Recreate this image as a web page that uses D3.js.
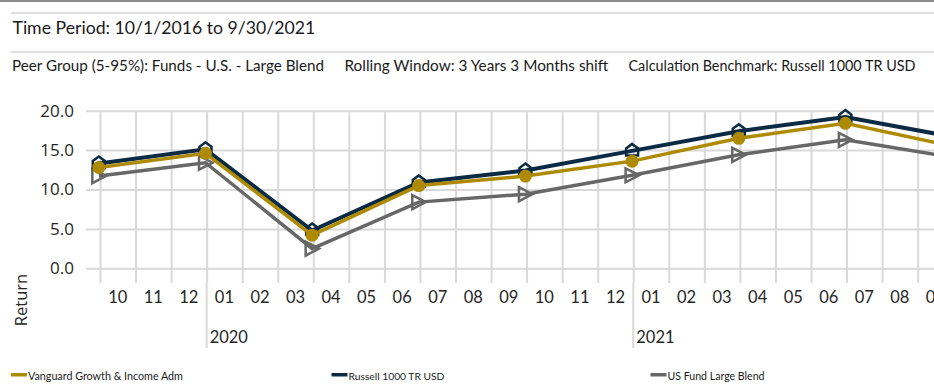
<!DOCTYPE html>
<html>
<head>
<meta charset="utf-8">
<script src="https://cdn.jsdelivr.net/npm/d3@7"></script>
<style>
  html, body { margin: 0; padding: 0; background: #fff; }
  svg { display: block; }
</style>
</head>
<body>
<svg id="chart" width="934" height="388"></svg>
<script>
// ---------- data ----------
const dates = ["2019-09-30","2019-12-31","2020-03-31","2020-06-30","2020-09-30","2020-12-31","2021-03-31","2021-06-30","2021-09-30"];
const vanguard = [12.8, 14.6, 4.2, 10.5, 11.7, 13.6, 16.5, 18.4, 15.5];
const russell  = [13.3, 15.1, 4.8, 10.9, 12.4, 14.9, 17.4, 19.2, 16.7];
const peerGroup = [11.7, 13.4, 2.5, 8.4, 9.4, 11.8, 14.4, 16.3, 14.1];
const seriesNames = ["Vanguard Growth & Income Adm", "Russell 1000 TR USD", "US Fund Large Blend"];
const yTicks = [0, 5, 10, 15, 20];
const monthLabels = ["10","11","12","01","02","03","04","05","06","07","08","09","10","11","12","01","02","03","04","05","06","07","08","09"];
const yearLabels = ["2020", "2021"];
const titleText = "Time Period: 10/1/2016 to 9/30/2021";
const subtitleParts = ["Peer Group (5-95%): Funds - U.S. - Large Blend", "Rolling Window: 3 Years 3 Months shift", "Calculation Benchmark: Russell 1000 TR USD"];
const yAxisTitle = "Return";

// ---------- style ----------
const colors = { vanguard: "#AE8A00", russell: "#0B2A44", peer: "#676767" };
const gridColor = "#D9D9D9";
const labelFont = "Lato, 'Liberation Sans Narrow', sans-serif";
const numFont = "'Open Sans', 'DejaVu Sans', sans-serif";

const svg = d3.select("#chart");
const W = 934, H = 388;
svg.append("rect").attr("width", W).attr("height", H).attr("fill", "#fff");

function fit(sel, w) {
  const len = sel.node().getComputedTextLength();
  const fs = parseFloat(sel.attr("font-size"));
  sel.attr("font-size", (fs * w / len).toFixed(2));
  return sel;
}

// ---------- header ----------
svg.append("line").attr("x1", 0).attr("x2", W).attr("y1", 1).attr("y2", 1)
  .attr("stroke", "#8C8C8C").attr("stroke-width", 2);
svg.append("line").attr("x1", 11).attr("x2", W).attr("y1", 13).attr("y2", 13)
  .attr("stroke", "#DDDDDD").attr("stroke-width", 2);
svg.append("line").attr("x1", 11).attr("x2", W).attr("y1", 52).attr("y2", 52)
  .attr("stroke", "#DDDDDD").attr("stroke-width", 2);

fit(svg.append("text").attr("x", 12.5).attr("y", 33.5)
  .attr("font-family", labelFont).attr("font-size", 18).attr("fill", "#1a1a1a")
  .text(titleText), 303);

const subX = [12, 344.5, 628.5];
const subW = [312, 264, 287];
subtitleParts.forEach((t, i) => {
  fit(svg.append("text").attr("x", subX[i]).attr("y", 71)
    .attr("font-family", labelFont).attr("font-size", 14).attr("fill", "#1a1a1a")
    .text(t), subW[i]);
});

// ---------- scales ----------
// x: continuous month index (months since Jan 2019)
function monthIndex(s) {
  const d = new Date(s + "T00:00:00");
  const y = d.getFullYear(), m = d.getMonth(), day = d.getDate();
  const dim = new Date(y, m + 1, 0).getDate();
  return (y - 2019) * 12 + m + (day - 1) / dim;
}
const firstMonth = 9; // Oct 2019
const x = d3.scaleLinear().domain([firstMonth, firstMonth + 24]).range([100, 100 + 24 * 35.55]);
const plotLeft = 86, plotTop = 110.7, plotBottom = 283;
const y = d3.scaleLinear().domain([0, 20]).range([268.3, 110.7]);

// ---------- gridlines / axes ----------
const yAxis = d3.axisLeft(y).tickValues(yTicks).tickFormat(d3.format(".1f"))
  .tickSize(-(W - plotLeft)).tickPadding(12);
const gy = svg.append("g").attr("transform", `translate(${plotLeft},0)`).call(yAxis);
gy.select(".domain").remove();
gy.selectAll(".tick line").attr("stroke", gridColor).attr("stroke-width", 2);
gy.selectAll(".tick text").attr("font-family", numFont).attr("font-size", 17)
  .attr("fill", "#262626");

const monthTicks = d3.range(firstMonth, firstMonth + 25);
const xAxis = d3.axisBottom(x).tickValues(monthTicks).tickFormat("")
  .tickSize(-(plotBottom - plotTop));
const gx = svg.append("g").attr("transform", `translate(0,${plotBottom})`).call(xAxis);
gx.select(".domain").remove();
gx.selectAll(".tick line").attr("stroke", gridColor).attr("stroke-width", 2);

// month labels
svg.append("g").selectAll("text").data(monthLabels).join("text")
  .attr("x", (d, i) => x(firstMonth + i + 0.5))
  .attr("y", 303)
  .attr("text-anchor", "middle")
  .attr("font-family", labelFont).attr("font-size", 16.5).attr("fill", "#262626")
  .text(d => d);

// year dividers & labels
const yearStarts = yearLabels.map((_, i) => 12 + 12 * i);
svg.append("g").selectAll("line").data(yearStarts).join("line")
  .attr("x1", d => x(d)).attr("x2", d => x(d))
  .attr("y1", plotBottom).attr("y2", 348)
  .attr("stroke", gridColor).attr("stroke-width", 2);
svg.append("g").selectAll("text").data(yearLabels).join("text")
  .attr("x", (d, i) => x(yearStarts[i]) + 3)
  .attr("y", 343)
  .attr("font-family", labelFont).attr("font-size", 16.5).attr("fill", "#262626")
  .text(d => d);

// y axis title
svg.append("text")
  .attr("transform", "translate(27,300) rotate(-90)")
  .attr("text-anchor", "middle")
  .attr("font-family", numFont).attr("font-size", 16.5).attr("fill", "#262626")
  .text(yAxisTitle);

// ---------- series ----------
const xs = dates.map(monthIndex);
const line = d3.line().x((d, i) => x(xs[i])).y(d => y(d));

const plot = svg.append("g");

// peer group (gray, triangle)
plot.append("path").datum(peerGroup).attr("d", line)
  .attr("fill", "none").attr("stroke", colors.peer).attr("stroke-width", 3.5)
  .attr("stroke-linejoin", "miter");
plot.append("g").selectAll("path").data(peerGroup).join("path")
  .attr("transform", (d, i) => `translate(${x(xs[i])},${y(d)})`)
  .attr("d", "M-6.5,-7L7,0L-6.5,7Z")
  .attr("fill", "none").attr("stroke", colors.peer).attr("stroke-width", 2.5);

// russell (navy, house)
plot.append("path").datum(russell).attr("d", line)
  .attr("fill", "none").attr("stroke", colors.russell).attr("stroke-width", 4)
  .attr("stroke-linejoin", "miter");
plot.append("g").selectAll("path").data(russell).join("path")
  .attr("transform", (d, i) => `translate(${x(xs[i])},${y(d)})`)
  .attr("d", "M0,-7L6,-2.5L6,4.5L-6,4.5L-6,-2.5Z")
  .attr("fill", "none").attr("stroke", colors.russell).attr("stroke-width", 2.5);

// vanguard (gold, circle)
plot.append("path").datum(vanguard).attr("d", line)
  .attr("fill", "none").attr("stroke", colors.vanguard).attr("stroke-width", 3.5)
  .attr("stroke-linejoin", "miter");
plot.append("g").selectAll("circle").data(vanguard).join("circle")
  .attr("cx", (d, i) => x(xs[i])).attr("cy", d => y(d)).attr("r", 6.5)
  .attr("fill", colors.vanguard);

// ---------- legend ----------
const legendColors = [colors.vanguard, colors.russell, colors.peer];
const legendX = [11, 331.5, 650.5];
const legendW = [155, 96, 97];
const lg = svg.append("g").selectAll("g").data(seriesNames).join("g")
  .attr("transform", (d, i) => `translate(${legendX[i]},0)`);
lg.append("rect").attr("x", 0).attr("y", 373).attr("width", 16).attr("height", 3.5)
  .attr("fill", (d, i) => legendColors[i]);
lg.append("text").attr("x", 17).attr("y", 379.5)
  .attr("font-family", labelFont).attr("font-size", 11).attr("fill", "#1a1a1a")
  .text(d => d)
  .each(function(d, i) { fit(d3.select(this), legendW[i]); });
</script>
</body>
</html>
